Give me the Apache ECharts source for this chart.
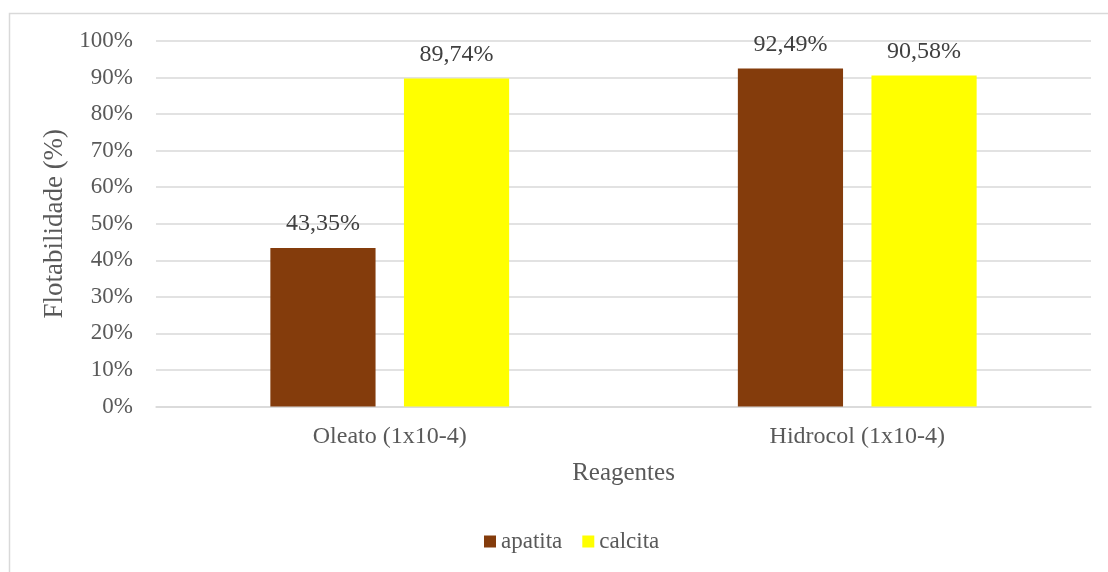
<!DOCTYPE html>
<html>
<head>
<meta charset="utf-8">
<script src="https://cdn.jsdelivr.net/npm/echarts@6/dist/echarts.min.js"></script>
<style>html,body{margin:0;padding:0;background:#fff}#c{width:1108px;height:572px}</style>
</head>
<body>
<div id="c"></div>
<script>
var categories = ['Oleato (1x10-4)', 'Hidrocol (1x10-4)'];
var apatita = [43.35, 92.49];
var calcita = [89.74, 90.58];
var seriesNames = ['apatita', 'calcita'];
var yTicks = [0, 10, 20, 30, 40, 50, 60, 70, 80, 90, 100];

var FONT = '"Liberation Serif", "Times New Roman", serif';
var chart = echarts.init(document.getElementById('c'));
function fmt(v){ return v.toFixed(2).replace('.', ',') + '%'; }
chart.setOption({
  backgroundColor: '#fff',
  animation: false,
  textStyle: { fontFamily: FONT },
  graphic: [{
    type: 'rect', left: 7, top: 11, silent: true,
    shape: { width: 1130, height: 620 },
    style: { fill: 'none', stroke: '#d9d9d9', lineWidth: 1.5 }
  }],
  grid: { left: 156, right: 17, top: 41, bottom: 165.5 },
  legend: {
    data: seriesNames, bottom: 14, left: 479,
    itemWidth: 12, itemHeight: 12, itemGap: 20, icon: 'rect',
    textStyle: { fontFamily: FONT, fontSize: 23, color: '#595959' }
  },
  xAxis: {
    type: 'category', data: categories,
    name: 'Reagentes', nameLocation: 'middle', nameGap: 54,
    nameTextStyle: { fontFamily: FONT, fontSize: 25, color: '#595959' },
    axisLine: { lineStyle: { color: '#d9d9d9', width: 1.5 } },
    axisTick: { show: false },
    axisLabel: { fontFamily: FONT, fontSize: 24, color: '#595959', margin: 18 }
  },
  yAxis: {
    type: 'value', min: 0, max: 100, interval: 10,
    name: 'Flotabilidade (%)', nameLocation: 'middle', nameGap: 76,
    nameTextStyle: { fontFamily: FONT, fontSize: 27, color: '#595959' },
    axisLine: { show: false }, axisTick: { show: false },
    axisLabel: { fontFamily: FONT, fontSize: 23, color: '#595959', margin: 23,
      formatter: function(v){ return yTicks.indexOf(v) >= 0 ? v + '%' : ''; } },
    splitLine: { lineStyle: { color: '#d9d9d9', width: 1.5 } }
  },
  series: [
    { name: seriesNames[0], type: 'bar', data: apatita, barWidth: '22.5%', barGap: '27%',
      itemStyle: { color: '#843C0C' },
      label: { show: true, position: 'top', distance: 12, fontFamily: FONT, fontSize: 24, color: '#404040',
        formatter: function(p){ return fmt(p.value); } } },
    { name: seriesNames[1], type: 'bar', data: calcita, barWidth: '22.5%', barGap: '27%',
      itemStyle: { color: '#FFFF00' },
      label: { show: true, position: 'top', distance: 12, fontFamily: FONT, fontSize: 24, color: '#404040',
        formatter: function(p){ return fmt(p.value); } } }
  ]
});
</script>
</body>
</html>
